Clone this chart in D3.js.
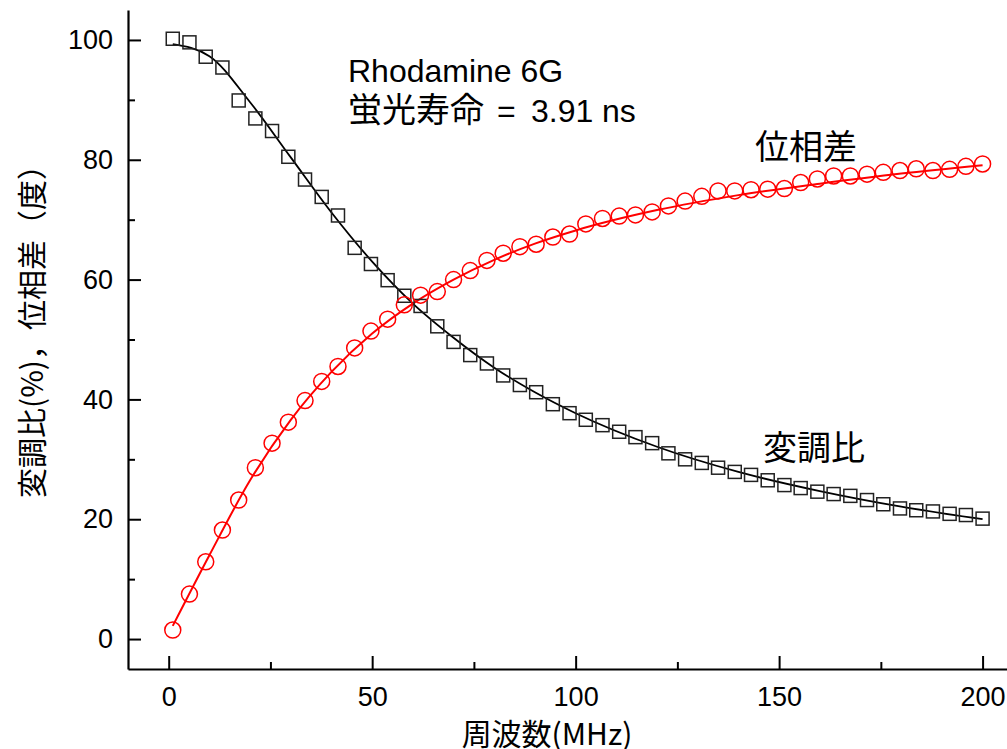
<!DOCTYPE html>
<html>
<head>
<meta charset="utf-8">
<script src="https://cdn.jsdelivr.net/npm/d3@7/dist/d3.min.js"></script>
<style>
  body { margin: 0; background: #fff; }
  svg { display: block; font-family: "Liberation Sans", "Noto Sans CJK JP", sans-serif; }
</style>
</head>
<body>
<svg id="chart" width="1007" height="749"></svg>
<script>
// measured frequencies (MHz)
const freq = [1, 5.1, 9.1, 13.2, 17.2, 21.3, 25.4, 29.4, 33.5, 37.6,
  41.6, 45.7, 49.7, 53.8, 57.9, 61.9, 66.0, 70.0, 74.1, 78.2,
  82.2, 86.3, 90.3, 94.4, 98.5, 102.5, 106.6, 110.7, 114.7, 118.8,
  122.8, 126.9, 131.0, 135.0, 139.1, 143.1, 147.2, 151.3, 155.3, 159.4,
  163.4, 167.5, 171.6, 175.6, 179.7, 183.7, 187.8, 191.9, 195.9, 200];

// modulation ratio (%)
const modulation = [100.2, 99.6, 97.2, 95.4, 89.9, 86.9, 84.8, 80.5, 76.7, 73.8,
  70.7, 65.3, 62.6, 59.9, 57.3, 55.6, 52.2, 49.6, 47.4, 46.0,
  44.0, 42.4, 41.2, 39.2, 37.7, 36.6, 35.7, 34.6, 33.7, 32.7,
  31.0, 30.0, 29.4, 28.6, 27.9, 27.4, 26.5, 25.7, 25.2, 24.6,
  24.2, 23.9, 23.2, 22.5, 21.8, 21.5, 21.3, 20.9, 20.7, 20.1];

// phase shift (deg)
const phase = [1.5, 7.5, 12.9, 18.2, 23.2, 28.6, 32.7, 36.2, 39.8, 43.0,
  45.5, 48.6, 51.4, 53.4, 55.8, 57.4, 58.0, 60.0, 61.5, 63.2,
  64.4, 65.5, 65.9, 67.1, 67.6, 69.3, 70.2, 70.6, 70.8, 71.3,
  72.3, 73.1, 73.9, 74.8, 74.8, 75.0, 75.1, 75.2, 76.2, 76.8,
  77.3, 77.3, 77.6, 77.9, 78.2, 78.5, 78.2, 78.4, 78.9, 79.3];

// fitted curves
const fitFreq = [1, 10, 20, 30, 40, 50, 60, 70, 80, 90, 100, 120, 140, 160, 180, 200];
const fitModulation = [99.3, 97.3, 89.6, 80.4, 71.2, 63.0, 56.0, 50.3, 45.3, 41.2, 37.7, 32.1, 27.9, 24.7, 22.1, 20.0];
const fitPhase = [2.2, 14.0, 26.5, 36.6, 44.6, 51.0, 56.0, 60.0, 63.3, 66.0, 68.2, 71.6, 74.1, 76.0, 77.7, 79.1];

const xTicks = [0, 50, 100, 150, 200];
const xMinor = [25, 75, 125, 175];
const yTicks = [0, 20, 40, 60, 80, 100];
const yMinor = [10, 30, 50, 70, 90];

const svg = d3.select("#chart");

const x = d3.scaleLinear().domain([-10, 206]).range([128, 1007]);
const y = d3.scaleLinear().domain([-5, 105]).range([669, 10]);

// minor ticks
svg.append("g")
    .attr("transform", "translate(0,669)")
    .call(d3.axisBottom(x).tickValues(xMinor).tickSize(-7).tickFormat(""))
    .call(g => g.select(".domain").remove());
svg.append("g")
    .attr("transform", "translate(128,0)")
    .call(d3.axisLeft(y).tickValues(yMinor).tickSize(-7).tickFormat(""))
    .call(g => g.select(".domain").remove());

const xAxis = svg.append("g")
    .attr("transform", "translate(0,669)")
    .call(d3.axisBottom(x).tickValues(xTicks).tickSizeInner(-13).tickSizeOuter(0).tickPadding(18));
const yAxis = svg.append("g")
    .attr("transform", "translate(128,0)")
    .call(d3.axisLeft(y).tickValues(yTicks).tickSizeInner(-13).tickSizeOuter(0).tickPadding(15));

svg.selectAll(".tick line").attr("stroke", "#000").attr("stroke-width", 2);
svg.selectAll(".domain").attr("stroke", "#000").attr("stroke-width", 2.2);
[xAxis, yAxis].forEach(a => a.selectAll("text")
    .attr("fill", "#000")
    .style("font-size", "27px")
    .style("font-family", "'Liberation Sans', sans-serif"));

// fit lines
const fitLine = (vals) => d3.line()
    .x((d, i) => x(fitFreq[i]))
    .y(d => y(d))
    .curve(d3.curveMonotoneX)(vals);

svg.append("path")
    .attr("d", fitLine(fitModulation))
    .attr("fill", "none")
    .attr("stroke", "#000")
    .attr("stroke-width", 1.8);

svg.append("path")
    .attr("d", fitLine(fitPhase))
    .attr("fill", "none")
    .attr("stroke", "#ff0000")
    .attr("stroke-width", 2);

// modulation markers
svg.append("g").selectAll("rect")
    .data(modulation)
    .enter()
    .append("rect")
    .attr("x", (d, i) => x(freq[i]) - 6.5)
    .attr("y", d => y(d) - 6.5)
    .attr("width", 13)
    .attr("height", 13)
    .attr("fill", "none")
    .attr("stroke", "#222")
    .attr("stroke-width", 1.5);

// phase markers
svg.append("g").selectAll("circle")
    .data(phase)
    .enter()
    .append("circle")
    .attr("cx", (d, i) => x(freq[i]))
    .attr("cy", d => y(d))
    .attr("r", 8)
    .attr("fill", "none")
    .attr("stroke", "#ff0000")
    .attr("stroke-width", 1.5);

// annotations
const note = svg.append("g").attr("fill", "#000").style("font-size", "32px");
note.append("text").attr("x", 348).attr("y", 82).text("Rhodamine 6G");
const line2 = note.append("text").attr("y", 122);
line2.append("tspan").attr("x", 348).style("font-family", "'Noto Sans CJK JP'").style("font-size", "34px").text("蛍光寿命");
line2.append("tspan").attr("x", 497).text("=");
line2.append("tspan").attr("x", 531).text("3.91");
line2.append("tspan").attr("x", 602).text("ns");

svg.append("text")
    .attr("x", 755).attr("y", 159)
    .style("font-family", "'Noto Sans CJK JP'")
    .style("font-size", "34px")
    .text("位相差");

svg.append("text")
    .attr("x", 763).attr("y", 460)
    .style("font-family", "'Noto Sans CJK JP'")
    .style("font-size", "34px")
    .text("変調比");

// axis titles
svg.append("text")
    .attr("x", 547).attr("y", 745)
    .attr("text-anchor", "middle")
    .style("font-family", "'Noto Sans CJK JP'")
    .style("font-size", "30px")
    .text("周波数(MHz)");

svg.append("text")
    .attr("transform", "translate(43,324) rotate(-90)")
    .attr("text-anchor", "middle")
    .style("font-family", "'Noto Sans CJK JP'")
    .style("font-size", "30px")
    .text("変調比(%)，位相差（度）");
</script>
</body>
</html>
